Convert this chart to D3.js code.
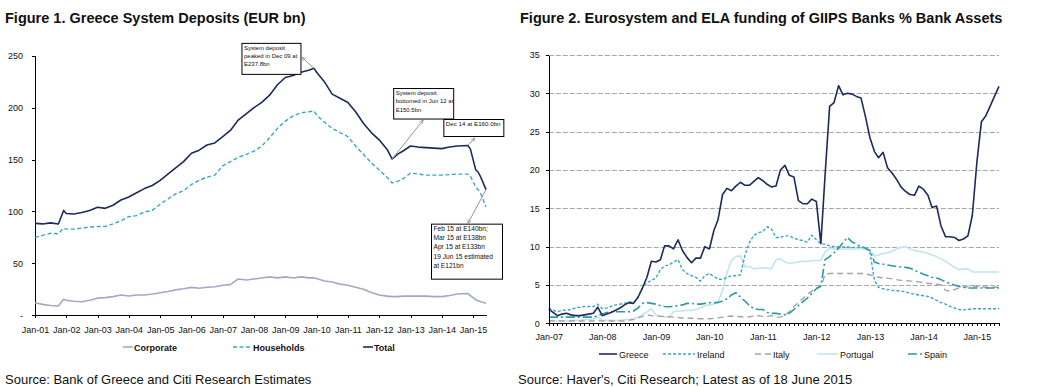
<!DOCTYPE html>
<html lang="en">
<head>
<meta charset="utf-8">
<title>Greece deposits and GIIPS funding</title>
<script src="https://d3js.org/d3.v7.min.js"></script>
<style>
  body { margin: 0; background: #fff; }
  svg { display: block; font-family: "Liberation Sans", Arial, sans-serif; }
  .title { font-size: 14.5px; font-weight: bold; fill: #111; }
  .source { font-size: 13px; fill: #111; }
  .axis text { font-size: 9px; fill: #111; }
  .axis path, .axis line { stroke: #000; shape-rendering: crispEdges; }
  .note { font-size: 6px; fill: #111; }
</style>
</head>
<body>
<svg id="vis" width="1040" height="387"></svg>
<script>
// ---- Figure 1: Greece system deposits (EUR bn) ----
var depDates = ["2001-01","2001-04","2001-07","2001-10","2001-12","2002-01","2002-04","2002-07","2002-10",
  "2003-01","2003-04","2003-07","2003-10","2004-01","2004-04","2004-07","2004-10",
  "2005-01","2005-04","2005-07","2005-10","2006-01","2006-04","2006-07","2006-10",
  "2007-01","2007-04","2007-07","2007-10","2008-01","2008-04","2008-07","2008-10",
  "2009-01","2009-04","2009-07","2009-10","2009-12","2010-01","2010-04","2010-07","2010-10",
  "2011-01","2011-04","2011-07","2011-10","2012-01","2012-04","2012-06","2012-08","2012-10",
  "2013-01","2013-04","2013-07","2013-10","2014-01","2014-04","2014-07","2014-11","2014-12",
  "2015-02","2015-03","2015-04","2015-06"];
var total = [88.5,88,89,88,101,98,97.5,99,101,
  104,103,106,111,114,118,122,125,
  130,136,142,148,156,159,164,166,
  172,178,188,194,200,205,212,222,
  229,231,234,236,237.8,234,225,213,209,
  205,196,185,176,169,160,150.5,155,158,
  163,162,161.5,161,160.5,162,163,163.5,160,
  140,138,133,121];
var households = [75,77,79,78.5,84,83,83,84,85,
  85.5,85.5,88,91,95,96,99.5,101,
  107,112,117,120,126,130,133,135,
  144,148,152,155,158,163,171,180,
  187,192,195,196,196.7,193,186,180,176,
  172,163,155,147,140,133,127.5,129,131,
  137,136,135,135,135,135.5,136,136,134,
  123.5,121,117,104.5];
var corporate = [12,10.5,9.5,9,15.4,14.5,13.5,13,14.5,
  16.5,17,18,19.5,18.6,19.5,19.5,20.5,
  21.7,23,24.5,25.5,26.9,26,27,27.5,
  29,29.5,35,34,35,36,37,36,
  37,36,37,36,36,35.4,33,32,30,
  29,27,25,22,19.5,18.5,18,18,18.5,
  18.6,18.5,18.5,18,18,19,20.5,21,19,
  15,14,13,11.5];
var depTicks = [0,50,100,150,200,250];

// ---- Figure 2: Eurosystem + ELA funding, % bank assets, monthly from Jan-07 ----
var fundStart = "2007-01";
var greece = [1.85,1.4,1.0,1.2,1.3,1.1,1.0,1.0,1.1,1.2,
  1.3,2.1,1.0,1.2,1.4,1.7,2.0,2.4,2.7,2.6,
  3.4,4.6,6.0,8.1,8.0,8.3,10.1,10.1,9.7,10.9,
  9.5,8.6,7.9,8.5,8.5,10.0,9.7,12.1,13.5,16.8,
  17.6,17.3,17.9,18.4,18.0,18.0,18.5,19.0,18.6,18.1,
  17.8,17.9,20.0,20.6,19.3,19.1,16.0,15.6,15.6,16.2,
  15.9,10.4,19.4,28.3,28.8,31.0,29.8,30.0,29.9,29.6,
  29.4,27.0,24.2,22.4,21.6,22.3,20.3,19.6,18.8,17.8,
  17.2,16.8,16.7,17.9,17.5,16.7,15.1,15.3,12.7,11.3,
  11.3,11.2,10.8,11.0,11.4,14.1,21.0,26.3,27.0,28.3,
  29.6,30.9];
var ireland = [2.0,1.7,1.5,1.7,1.7,1.8,2.0,2.1,2.2,2.2,
  2.2,2.5,1.9,2.0,2.2,2.4,2.5,2.6,2.8,2.7,
  3.4,4.6,5.3,5.6,5.9,7.0,7.5,7.6,8.0,8.3,
  7.0,6.5,6.2,6.0,5.5,6.2,6.5,6.1,5.8,5.7,
  6.0,6.2,6.2,6.3,8.9,10.5,11.5,11.8,12.0,12.6,
  12.3,11.2,11.2,11.4,11.4,11.1,10.9,10.8,10.6,11.5,
  10.9,10.4,10.3,10.1,10.0,10.0,9.95,9.95,9.9,9.9,
  9.9,9.9,9.3,5.6,4.7,4.5,4.4,4.3,4.25,4.2,
  4.1,3.9,3.8,3.7,3.6,3.5,3.3,3.0,2.7,2.5,
  2.2,2.0,1.8,1.75,1.8,1.9,1.9,1.9,1.9,1.9,
  1.9,1.9];
var italy = [0.3,0.3,0.3,0.3,0.3,0.3,0.3,0.3,0.3,0.3,
  0.3,0.4,0.3,0.3,0.3,0.3,0.3,0.3,0.4,0.5,
  0.7,0.9,1.1,1.0,0.95,0.9,0.9,0.85,0.8,0.75,
  0.7,0.65,0.65,0.6,0.6,0.6,0.6,0.65,0.7,0.8,
  0.9,0.95,0.9,0.85,0.8,0.85,0.95,1.0,0.9,0.9,
  1.0,0.8,0.8,1.1,1.5,2.2,2.7,3.2,3.8,4.2,
  4.6,4.8,6.4,6.5,6.5,6.5,6.5,6.5,6.5,6.5,
  6.5,6.5,6.3,6.2,6.0,5.9,5.9,5.8,5.7,5.6,
  5.6,5.5,5.5,5.4,5.3,5.2,5.2,5.1,5.0,4.3,
  4.2,4.4,4.6,4.7,4.8,4.9,4.8,4.8,4.7,4.7,
  4.7,4.7];
var portugal = [0.4,0.4,0.3,0.3,0.3,0.4,0.4,0.4,0.5,0.5,
  0.6,0.8,0.4,0.4,0.4,0.4,0.4,0.5,0.5,0.6,
  0.8,1.1,1.5,1.9,1.1,0.9,0.85,0.8,1.5,1.6,
  1.6,1.7,1.7,1.8,2.0,2.3,2.4,2.5,2.8,4.3,
  6.6,8.2,8.7,8.8,7.4,7.4,7.1,7.2,7.2,7.2,
  7.1,8.3,8.4,8.0,7.8,7.9,8.0,8.1,8.1,8.15,
  8.2,8.2,9.3,9.8,9.7,9.7,9.7,9.7,9.7,9.7,
  9.7,9.7,9.5,8.8,8.9,9.1,9.2,9.4,9.7,9.9,
  10.0,9.7,9.5,9.4,9.3,9.1,8.9,8.7,8.4,8.1,
  7.7,7.3,7.0,7.1,7.1,6.7,6.7,6.7,6.7,6.7,
  6.7,6.7];
var spain = [0.8,0.8,0.8,0.8,0.8,0.8,0.8,0.8,0.8,0.8,
  0.8,1.0,1.2,1.4,1.5,1.5,1.5,1.5,1.5,1.6,
  2.0,2.6,2.7,2.6,2.5,2.3,2.2,2.15,2.2,2.3,
  2.4,2.6,2.6,2.5,2.5,2.6,2.7,2.7,2.7,2.9,
  3.2,3.7,4.0,3.4,2.9,2.3,1.9,1.8,1.8,1.4,
  1.3,1.3,1.2,1.1,1.3,1.8,2.3,2.8,3.3,3.9,
  4.5,4.9,8.3,8.7,9.2,9.8,10.5,11.2,10.6,10.3,
  10.0,9.8,9.5,8.0,7.8,7.7,7.6,7.5,7.4,7.35,
  7.3,7.2,6.9,6.7,6.4,6.2,6.0,5.9,5.7,5.4,
  5.2,5.0,4.8,4.7,4.6,4.6,4.6,4.6,4.6,4.6,
  4.6,4.6];
var fundTicks = [0,5,10,15,20,25,30,35];

var svg = d3.select("#vis");
var parseM = d3.timeParse("%Y-%m");
var fmtTick = d3.timeFormat("%b-%y");

// ================= Figure 1 =================
var xL = d3.scaleTime().domain([parseM("2001-01"), parseM("2015-06")]).range([35, 486]);
var yL = d3.scaleLinear().domain([0, 250]).range([315.3, 55.7]);
var dd = depDates.map(parseM);

svg.append("text").attr("class", "title").attr("x", 5).attr("y", 23)
  .text("Figure 1. Greece System Deposits (EUR bn)");

svg.append("g").attr("class", "axis")
  .attr("transform", "translate(0," + yL(0) + ")")
  .call(d3.axisBottom(xL).ticks(d3.timeYear.every(1)).tickFormat(fmtTick)
    .tickSize(3).tickSizeOuter(0).tickPadding(8));

svg.append("g").attr("class", "axis")
  .attr("transform", "translate(" + xL.range()[0] + ",0)")
  .call(d3.axisLeft(yL).tickValues(depTicks).tickFormat(function(d) { return d === 0 ? "-" : d; })
    .tickSize(3).tickSizeOuter(0).tickPadding(9));

var depSeries = [
  { name: "Corporate", values: corporate, color: "#a3a9c3", width: 1.6, dash: null },
  { name: "Households", values: households, color: "#3aa6cc", width: 1.4, dash: "4,2.5" },
  { name: "Total", values: total, color: "#1e2b5a", width: 1.6, dash: null }
];

depSeries.forEach(function(s) {
  var line = d3.line().x(function(d, i) { return xL(dd[i]); }).y(function(d) { return yL(d); });
  svg.append("path").datum(s.values)
    .attr("d", line).attr("fill", "none")
    .attr("stroke", s.color).attr("stroke-width", s.width)
    .attr("stroke-dasharray", s.dash).attr("stroke-linejoin", "round");
});

// annotation boxes: anchored on a data point, box placed relative to it
var notes = [
  { date: "2009-12", series: total, lines: ["System deposit", "peaked in Dec  09 at", "E237.8bn"],
    box: [-72, -25, 59, 31], head: [-12, -11], size: 6, lh: 8.3 },
  { date: "2012-06", series: total, lines: ["System deposit", "bottomed in Jun 12 at", "E150.5bn"],
    box: [1.5, -70.5, 60, 30.5], head: [31, -39], size: 6, lh: 8.3 },
  { date: "2014-11", series: total, lines: ["Dec 14 at E160.0bn"],
    box: [-24, -26, 60, 17], head: [7, -7.5], size: 6.2, lh: 8 },
  { date: "2015-06", series: total, lines: ["Feb 15 at E140bn;", "Mar 15 at E138bn", "Apr 15 at E133bn", "19 Jun 15 estimated", "at E121bn"],
    box: [-54.5, 34.5, 71, 55], head: [-18, 33.5], size: 6.6, lh: 9.3 }
];

var defs = svg.append("defs");
defs.append("marker").attr("id", "arr").attr("viewBox", "0 0 10 10")
  .attr("refX", 9).attr("refY", 5).attr("markerWidth", 5).attr("markerHeight", 5)
  .attr("orient", "auto")
  .append("path").attr("d", "M1,1 L9,5 L1,9").attr("fill", "none").attr("stroke", "#8a8a8a").attr("stroke-width", 1.4);

notes.forEach(function(n) {
  var i = depDates.indexOf(n.date);
  var px = xL(dd[i]), py = yL(n.series[i]);
  svg.append("line")
    .attr("x1", px).attr("y1", py)
    .attr("x2", px + n.head[0]).attr("y2", py + n.head[1])
    .attr("stroke", "#8a8a8a").attr("stroke-width", 0.9)
    .attr("marker-end", "url(#arr)");
  var bx = px + n.box[0], by = py + n.box[1];
  svg.append("rect").attr("x", bx).attr("y", by).attr("width", n.box[2]).attr("height", n.box[3])
    .attr("fill", "#fff").attr("stroke", "#000").attr("stroke-width", 1);
  var t = svg.append("text").attr("class", "note").style("font-size", n.size + "px");
  n.lines.forEach(function(l, k) {
    t.append("tspan").attr("x", bx + 2).attr("y", by + 6.5 + k * n.lh).text(l);
  });
});

// legend
var legL = [
  { s: depSeries[0], x0: 123, x1: 133 },
  { s: depSeries[1], x0: 233, x1: 252 },
  { s: depSeries[2], x0: 363, x1: 373 }
];
legL.forEach(function(l) {
  svg.append("line").attr("x1", l.x0).attr("x2", l.x1).attr("y1", 347).attr("y2", 347)
    .attr("stroke", l.s.color).attr("stroke-width", l.s.width).attr("stroke-dasharray", l.s.dash);
  svg.append("text").attr("x", l.x1 + 1).attr("y", 350.5)
    .style("font-size", "9px").style("font-weight", "bold").attr("fill", "#111").text(l.s.name);
});

svg.append("text").attr("class", "source").attr("x", 5).attr("y", 383.5)
  .text("Source: Bank of Greece and Citi Research Estimates");

// ================= Figure 2 =================
var startR = parseM(fundStart);
var monthDate = function(i) { return d3.timeMonth.offset(startR, i); };
var xR = d3.scaleTime().domain([startR, monthDate(greece.length - 1)]).range([548.8, 999]);
var yR = d3.scaleLinear().domain([0, 35]).range([323.3, 55]);

svg.append("text").attr("class", "title").attr("x", 520).attr("y", 23)
  .text("Figure 2. Eurosystem and ELA funding of GIIPS Banks % Bank Assets");

// dashed gridlines
svg.append("g").selectAll("line").data(fundTicks.slice(1)).enter().append("line")
  .attr("x1", xR.range()[0]).attr("x2", xR.range()[1])
  .attr("y1", function(d) { return Math.round(yR(d)) + 0.5; })
  .attr("y2", function(d) { return Math.round(yR(d)) + 0.5; })
  .attr("stroke", "#a8a8a8").attr("stroke-width", 1).attr("stroke-dasharray", "5,2");

var fundSeries = [
  { name: "Greece", values: greece, color: "#1e2b5a", width: 1.6, dash: null },
  { name: "Ireland", values: ireland, color: "#3ba5c6", width: 1.4, dash: "3,2" },
  { name: "Italy", values: italy, color: "#a4a4a4", width: 1.4, dash: "6,4" },
  { name: "Portugal", values: portugal, color: "#c3e3ee", width: 1.6, dash: null },
  { name: "Spain", values: spain, color: "#2c98a6", width: 1.6, dash: "9,3,2,3" }
];

var drawOrder = [3, 2, 4, 1, 0];
drawOrder.forEach(function(k) {
  var s = fundSeries[k];
  var line = d3.line().x(function(d, i) { return xR(monthDate(i)); }).y(function(d) { return yR(d); });
  svg.append("path").datum(s.values)
    .attr("d", line).attr("fill", "none")
    .attr("stroke", s.color).attr("stroke-width", s.width)
    .attr("stroke-dasharray", s.dash).attr("stroke-linejoin", "round");
});

svg.append("g").attr("class", "axis")
  .attr("transform", "translate(0," + yR(0) + ")")
  .call(d3.axisBottom(xR).ticks(d3.timeMonth.every(1))
    .tickFormat(function(d) { return d.getMonth() === 0 ? fmtTick(d) : ""; })
    .tickSize(3).tickSizeOuter(3).tickPadding(7));

svg.append("g").attr("class", "axis")
  .attr("transform", "translate(" + xR.range()[0] + ",0)")
  .call(d3.axisLeft(yR).tickValues(fundTicks).tickSize(3).tickSizeOuter(0).tickPadding(6));

var legR = [
  { s: fundSeries[0], x0: 599, x1: 617 },
  { s: fundSeries[1], x0: 663, x1: 695 },
  { s: fundSeries[2], x0: 755, x1: 771 },
  { s: fundSeries[3], x0: 817, x1: 838 },
  { s: fundSeries[4], x0: 908, x1: 922 }
];
legR.forEach(function(l) {
  svg.append("line").attr("x1", l.x0).attr("x2", l.x1).attr("y1", 354).attr("y2", 354)
    .attr("stroke", l.s.color).attr("stroke-width", l.s.width).attr("stroke-dasharray", l.s.dash);
  svg.append("text").attr("x", l.x1 + 2).attr("y", 357.5)
    .style("font-size", "9px").attr("fill", "#111").text(l.s.name);
});

svg.append("text").attr("class", "source").attr("x", 518).attr("y", 383.5)
  .text("Source: Haver's, Citi Research; Latest as of 18 June 2015");
</script>
</body>
</html>
